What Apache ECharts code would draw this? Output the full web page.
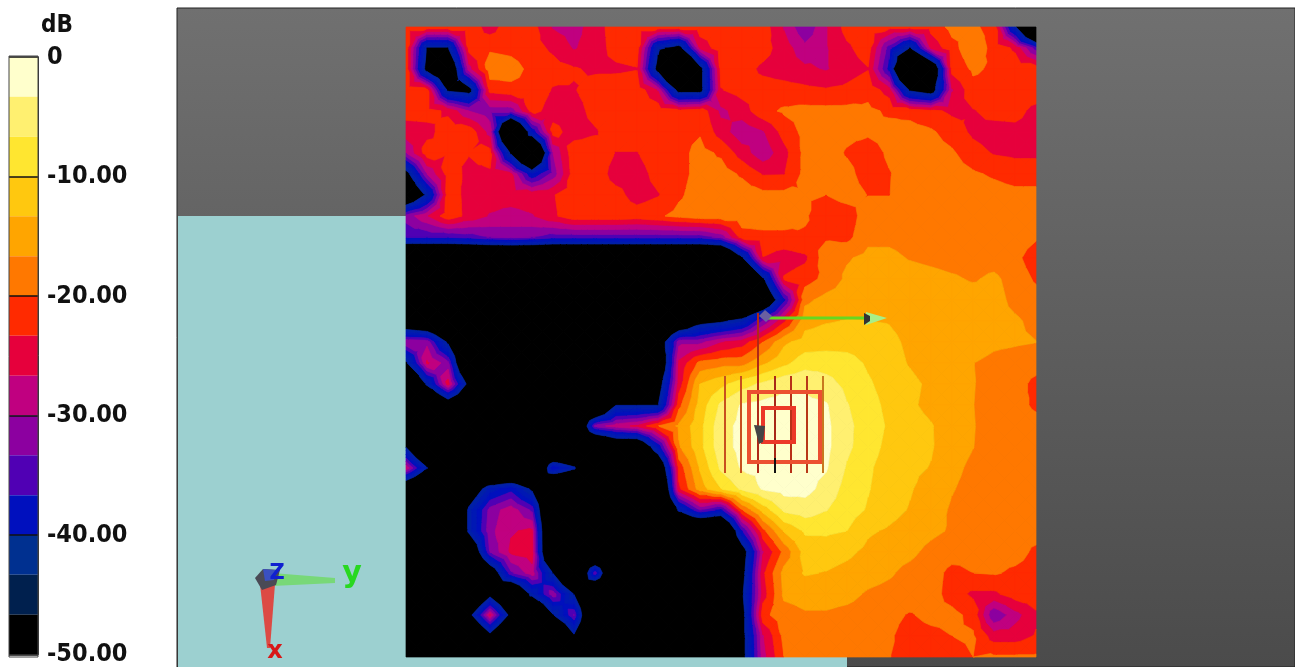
<!DOCTYPE html>
<html>
<head>
<meta charset="utf-8">
<title>dB field</title>
<style>
  html, body { margin: 0; padding: 0; background: #fff; }
  #main { width: 1295px; height: 667px; }
</style>
<script src="https://cdn.jsdelivr.net/npm/echarts@6/dist/echarts.min.js"></script>
</head>
<body>
<div id="main"></div>
<script>
// colour scale, top band (0 dB) first
var bandColors = ['#FFFFCC', '#FFF070', '#FFE630', '#FFC80F', '#FFA500', '#FF7800', '#FF2A00', '#E6003C',
  '#C00080', '#8C00A0', '#5000B4', '#0010BE', '#003090', '#00204E', '#000000'];
// the rims in the field read as plain blue, the two navy bands hardly show there
var fieldColors = bandColors.slice(0, 12).concat(['#0018B4', '#0020A8', '#000000']);
var bandStep = 50 / 15;
var scaleTicks = [0, -10, -20, -30, -40, -50];
var scaleLabels = ['0', '-10.00', '-20.00', '-30.00', '-40.00', '-50.00'];

// field in dB, one row per scan line, top to bottom
var fieldDb = [
  [-21,-21,-21,-21,-25,-21,-22,-27,-28,-25,-21.5,-21,-21,-21,-21,-21,-21,-21.5,-27,-33,-27,-22,-21,-22,-22,-22,-19,-19.5,-21,-45,-80],
  [-21,-47,-47,-22,-20.5,-21,-22,-24,-27,-25,-22,-21.5,-45,-50,-26,-21,-21,-22,-25,-29,-27,-24,-21.5,-35,-47,-26,-21,-18,-21,-24,-35],
  [-21,-50,-60,-28,-18,-18.5,-21,-22,-23,-24,-24,-23.5,-50,-80,-50,-22,-22,-24,-25,-26,-27,-25,-23.5,-38,-80,-60,-22,-19.5,-20.5,-21,-21],
  [-21,-22,-48,-50,-22,-21,-21,-23.6,-23.6,-21.5,-21,-21,-27,-50,-50,-23.5,-22,-22,-22,-22.5,-23,-22.5,-21,-25,-48,-52,-27,-21,-21,-21,-21],
  [-22,-22,-24,-30,-32,-32,-22,-25,-25,-22,-21,-21,-21,-22,-21,-27.5,-25,-21,-19.5,-19,-19,-19,-19.3,-20.5,-21,-22.5,-24,-23.6,-22,-22,-24.5],
  [-25,-24.5,-21.5,-21,-28,-76,-40,-22,-25,-23.8,-21,-21,-21,-21,-20.3,-25,-29,-27,-22,-19,-18.5,-19.2,-19.5,-19,-18.8,-19.5,-21.5,-24,-25,-24.5,-25],
  [-30,-21.5,-23,-23.2,-22,-48,-75,-30,-21,-21,-23.5,-23.5,-21,-21,-19,-20.5,-25,-29,-24.5,-19,-18.5,-20.3,-21.5,-19.5,-18.5,-18.5,-19.5,-22,-23.6,-24,-24],
  [-50,-30,-22,-24,-23.8,-26,-40,-32,-21.5,-21,-25,-25,-22,-21,-19,-18.5,-20.5,-23.6,-23.5,-19,-18.5,-19,-21.5,-20.2,-18.5,-18.5,-18.5,-19.5,-20.5,-21.5,-21.5],
  [-60,-45,-21.5,-24.5,-25,-25,-24.5,-23.6,-21,-21,-22,-25,-23.6,-20.5,-18.5,-18,-18,-19,-19,-19.5,-20,-18.5,-20.1,-20.1,-18,-18,-18,-18,-18.5,-19,-19],
  [-32,-27,-21,-24.5,-27,-28,-27,-24,-21,-21,-21,-21.5,-20.5,-19,-18,-18,-18,-18,-18,-19.5,-22.5,-22,-18,-18,-18,-18,-18,-18,-18,-18,-18],
  [-36,-36,-36,-35,-33,-32,-33,-35,-35,-35,-35,-35,-35,-35,-35,-32,-21.5,-21,-21,-20.5,-20.5,-21,-17.5,-17.5,-18,-18,-18,-18,-18,-18,-19.5],
  [-70,-70,-70,-70,-70,-70,-70,-70,-70,-70,-70,-70,-70,-70,-70,-70,-48,-23.5,-25,-24,-18,-17,-15.8,-15.8,-16.9,-17.5,-18,-18,-18,-19,-22],
  [-70,-70,-70,-70,-70,-70,-70,-70,-70,-70,-70,-70,-70,-70,-70,-70,-70,-48,-23,-21.5,-19,-16,-15,-15,-15,-15.5,-16.2,-17,-16,-18,-20.5],
  [-70,-70,-70,-70,-70,-70,-70,-70,-70,-70,-70,-70,-70,-70,-70,-70,-70,-60,-38,-17.5,-15.5,-15,-14.5,-14.5,-14.7,-15,-15,-15,-15.5,-17.5,-18.5],
  [-58,-62,-70,-70,-70,-70,-70,-70,-70,-70,-70,-70,-70,-60,-50,-48,-44,-33,-24,-14.5,-13.6,-13.2,-13.3,-13.5,-14.5,-15,-15,-15,-15.5,-16.2,-17.5],
  [-30,-31,-48,-70,-70,-70,-70,-70,-70,-70,-70,-70,-55,-31,-31,-27,-25,-20,-14,-12,-11.5,-11.5,-12,-12.5,-14,-15,-15,-15,-16,-16.3,-16.6],
  [-48,-26,-32,-70,-70,-70,-70,-70,-70,-70,-70,-70,-60,-26,-19,-18,-18,-14,-11,-8,-8,-8.5,-10.5,-12,-13.6,-15,-16,-16.6,-17.5,-18,-18.5],
  [-70,-45,-25,-50,-70,-70,-70,-70,-70,-70,-70,-70,-52,-25,-13.3,-11,-8,-6,-4,-4,-5.5,-7.5,-9.5,-11.5,-12.5,-14,-15.5,-16.5,-18,-18.5,-21],
  [-70,-70,-55,-62,-70,-70,-70,-70,-70,-70,-47,-47,-47,-21,-12,-6,-3,-2.5,-2.2,-2.5,-3,-6.5,-8.5,-11,-12.8,-14.2,-15.5,-16.6,-18,-19,-20.5],
  [-70,-70,-70,-70,-70,-70,-70,-70,-70,-32,-28,-26,-20,-16,-11,-4.5,-2.5,-2,-1.5,-2,-2.5,-6,-8,-10.5,-12,-13.1,-15,-16.5,-18,-18.5,-19],
  [-47,-70,-70,-70,-70,-70,-70,-70,-70,-70,-60,-60,-40,-17,-11,-4.5,-2.5,-2,-1.5,-2,-2.5,-6,-8.5,-11,-12,-13,-15.5,-16.6,-18,-18.5,-18.5],
  [-27,-46,-70,-70,-70,-70,-70,-38,-45,-70,-70,-70,-60,-22,-13,-6,-3,-2.5,-2,-2.2,-3,-7,-9.5,-11.5,-12.5,-13.5,-16,-17.2,-18,-18.5,-18.5],
  [-60,-70,-70,-55,-42,-38,-48,-70,-70,-70,-70,-70,-70,-24,-15,-10,-6,-3,-2,-2.2,-4.5,-8,-9.8,-11.5,-13,-15,-16.5,-17.5,-18,-18.5,-18.5],
  [-70,-70,-70,-45,-32,-28,-34,-70,-70,-70,-70,-70,-70,-45,-33,-38,-20,-12,-6,-5,-6.5,-8.5,-10.3,-12,-13.6,-15.5,-17,-18,-18.5,-18.5,-18.5],
  [-70,-70,-70,-45,-31,-27,-26,-70,-70,-70,-70,-70,-70,-70,-70,-70,-37,-21,-13,-9.5,-9.5,-10,-12.8,-13.8,-15,-16,-17,-18,-18.5,-19,-19],
  [-70,-70,-70,-60,-33,-26,-25,-70,-70,-70,-70,-70,-70,-70,-70,-70,-52,-27,-19,-12,-11.5,-12.5,-14.2,-15.5,-16,-17.5,-18.5,-19,-19,-19,-20.5],
  [-70,-70,-70,-70,-55,-34,-28,-47,-70,-34,-70,-70,-70,-70,-70,-70,-50,-24,-15.5,-13,-13.5,-14.5,-15.5,-16.3,-17.5,-18.5,-21,-20,-19.7,-20.5,-21],
  [-70,-70,-70,-70,-50,-65,-44,-31,-47,-70,-70,-70,-70,-70,-70,-70,-48,-25,-16,-15.5,-15.5,-15.8,-17,-17.5,-18,-18.5,-21.5,-24,-24,-21.5,-21],
  [-70,-70,-70,-50,-26,-50,-70,-47,-33,-70,-70,-70,-70,-70,-70,-70,-50,-21,-18,-17,-17,-17.5,-18,-19,-20.3,-19,-19,-21,-33,-28,-24],
  [-70,-70,-70,-70,-50,-70,-70,-70,-48,-70,-70,-70,-70,-70,-70,-70,-50,-27,-19,-17,-17.5,-18,-18.5,-19.5,-21.5,-21,-20,-19.6,-25,-25,-23],
  [-70,-70,-70,-70,-70,-70,-70,-70,-70,-70,-70,-70,-70,-70,-70,-70,-50,-28,-20,-17.5,-18.5,-18.5,-18.8,-19.9,-21,-21,-21,-20,-19.5,-19.5,-19.5]
];

// clip a polygon [x, y, v] to the part where sign * (v - limit) >= 0
function clipBand(poly, limit, sign) {
  var out = [];
  for (var i = 0; i < poly.length; i++) {
    var a = poly[i], b = poly[(i + 1) % poly.length];
    var da = sign * (a[2] - limit), db = sign * (b[2] - limit);
    if (da >= 0) out.push(a);
    if ((da >= 0) !== (db >= 0)) {
      var t = da / (da - db);
      out.push([a[0] + (b[0] - a[0]) * t, a[1] + (b[1] - a[1]) * t, limit]);
    }
  }
  return out;
}

function renderCell(params, api) {
  var c = api.value(0), r = api.value(1);
  var v00 = fieldDb[r][c], v10 = fieldDb[r][c + 1], v01 = fieldDb[r + 1][c], v11 = fieldDb[r + 1][c + 1];
  var corners = [[c, r, v00], [c + 1, r, v10], [c + 1, r + 1, v11], [c, r + 1, v01]];
  var mid = [c + 0.5, r + 0.5, (v00 + v10 + v01 + v11) / 4];
  var children = [];
  for (var k = 0; k < 4; k++) {
    var tri = [corners[k], corners[(k + 1) % 4], mid];
    for (var b = fieldColors.length - 1; b >= 0; b--) {
      var poly = tri;
      if (b > 0) poly = clipBand(poly, -bandStep * b, -1);
      if (b < fieldColors.length - 1 && poly.length) poly = clipBand(poly, -bandStep * (b + 1), 1);
      if (poly.length < 3) continue;
      children.push({
        type: 'polygon',
        shape: { points: poly.map(function (p) { return api.coord([p[0], p[1]]); }) },
        style: { fill: fieldColors[b], stroke: fieldColors[b], lineWidth: 0.7 },
        silent: true
      });
    }
  }
  return { type: 'group', children: children };
}

function renderScaleBand(params, api) {
  var top = api.coord([0, api.value(0)]);
  var bottom = api.coord([0, api.value(1)]);
  var size = api.size([1, 0]);
  return {
    type: 'rect',
    shape: { x: top[0] - size[0] / 2, y: top[1], width: size[0], height: bottom[1] - top[1] },
    style: { fill: bandColors[params.dataIndex] }
  };
}

var cells = [];
for (var r = 0; r < fieldDb.length - 1; r++) {
  for (var c = 0; c < fieldDb[r].length - 1; c++) cells.push([c, r]);
}
var scaleBands = bandColors.map(function (color, i) {
  return [-bandStep * i, -bandStep * (i + 1)];
});

function line(x1, y1, x2, y2, color, width, z) {
  return {
    type: 'line', z: z || 50, silent: true,
    shape: { x1: x1, y1: y1, x2: x2, y2: y2 },
    style: { stroke: color, lineWidth: width }
  };
}
function shape(points, color, z) {
  return { type: 'polygon', z: z || 50, silent: true, shape: { points: points }, style: { fill: color } };
}
function letter(text, x, y, size, color) {
  return {
    type: 'text', z: 60, silent: true, x: x, y: y,
    style: { text: text, fill: color, font: 'bold ' + size + 'px "DejaVu Sans"', textAlign: 'center', textVerticalAlign: 'middle' }
  };
}

var chart = echarts.init(document.getElementById('main'), null, { renderer: 'canvas' });

chart.setOption({
  animation: false,
  backgroundColor: '#ffffff',
  title: {
    text: 'dB', left: 41, top: 14, padding: 0,
    textStyle: { color: '#111', fontSize: 24, fontWeight: 'bold', fontFamily: '"DejaVu Sans Condensed", "DejaVu Sans"' }
  },
  grid: [
    { left: 406, top: 27, width: 630, height: 630 },
    { left: 9, top: 57, width: 29, height: 600 }
  ],
  xAxis: [
    { gridIndex: 0, type: 'value', min: 0, max: 30, show: false },
    { gridIndex: 1, type: 'category', data: ['dB'], show: false }
  ],
  yAxis: [
    { gridIndex: 0, type: 'value', min: 0, max: 30, inverse: true, show: false },
    {
      gridIndex: 1, type: 'value', min: -50, max: 0, interval: 10, position: 'right', z: 5,
      axisLine: { show: true, lineStyle: { color: '#333', width: 1 } },
      axisTick: { show: true, inside: true, length: 29, lineStyle: { color: '#111', width: 1.5 } },
      splitLine: { show: false },
      axisLabel: {
        show: true, margin: 9, color: '#111', fontSize: 25, fontWeight: 'bold',
        fontFamily: '"DejaVu Sans Condensed", "DejaVu Sans"',
        formatter: function (v) { return scaleLabels[scaleTicks.indexOf(v)]; }
      }
    }
  ],
  series: [
    {
      type: 'custom', xAxisIndex: 0, yAxisIndex: 0, data: cells, renderItem: renderCell,
      encode: { x: 0, y: 1 }, silent: true, z: 3
    },
    {
      type: 'custom', xAxisIndex: 1, yAxisIndex: 1, data: scaleBands, renderItem: renderScaleBand,
      encode: { y: [0, 1] }, silent: true, z: 3
    }
  ],
  graphic: [
    // scene background
    {
      type: 'rect', z: 0, silent: true,
      shape: { x: 177, y: 8, width: 1118, height: 659 },
      style: {
        fill: new echarts.graphic.LinearGradient(0, 0, 0, 1, [
          { offset: 0, color: '#707070' }, { offset: 1, color: '#4b4b4b' }
        ]),
        stroke: '#222', lineWidth: 1
      }
    },
    { type: 'rect', z: 1, silent: true, shape: { x: 178, y: 216, width: 228, height: 451 }, style: { fill: '#9CD0D0' } },
    { type: 'rect', z: 1, silent: true, shape: { x: 406, y: 657, width: 441, height: 10 }, style: { fill: '#9CD0D0' } },
    { type: 'rect', z: 6, silent: true, shape: { x: 9, y: 56, width: 29, height: 601 }, style: { fill: 'none', stroke: '#444', lineWidth: 1 } },

    // probe and antenna on the field
    line(725, 376, 725, 473, '#C8501E', 2),
    line(741, 376, 741, 473, '#C8501E', 2),
    line(758, 313, 758, 473, '#B02818', 2),
    line(775, 376, 775, 473, '#A82818', 2),
    line(791, 376, 791, 473, '#B83018', 2),
    line(807, 376, 807, 473, '#B83818', 2),
    line(823, 376, 823, 473, '#C8781E', 2),
    line(775, 458, 775, 473, '#111', 2, 52),
    { type: 'rect', z: 51, silent: true, shape: { x: 749, y: 392, width: 71, height: 70 }, style: { fill: 'none', stroke: '#EC5030', lineWidth: 4 } },
    { type: 'rect', z: 51, silent: true, shape: { x: 763, y: 408, width: 31, height: 34 }, style: { fill: 'none', stroke: '#EC3828', lineWidth: 4 } },
    line(768, 318, 868, 318, '#66D820', 3),
    shape([[866, 312], [887, 318], [866, 325]], '#A8EE88', 52),
    shape([[864, 313], [870, 316], [870, 321], [864, 325]], '#333', 53),
    shape([[759, 316], [765, 310], [772, 316], [766, 322]], '#6A60A0', 52),
    shape([[754, 425], [765, 426], [763, 442], [759, 444]], '#444', 52),

    // axis triad
    shape([[272, 573], [335, 578], [335, 583], [272, 586]], '#78D878', 40),
    shape([[260, 584], [275, 584], [270, 648], [267, 648]], '#DC4A44', 40),
    shape([[255, 578], [263, 569], [280, 570], [276, 585], [262, 590]], '#4A4A55', 41),
    shape([[263, 569], [276, 570], [274, 580], [265, 581]], '#3A50C0', 42),
    letter('Z', 277, 574, 21, '#1020D0'),
    letter('y', 352, 574, 30, '#28D820'),
    letter('x', 275, 652, 24, '#D81818')
  ]
});
</script>
</body>
</html>
